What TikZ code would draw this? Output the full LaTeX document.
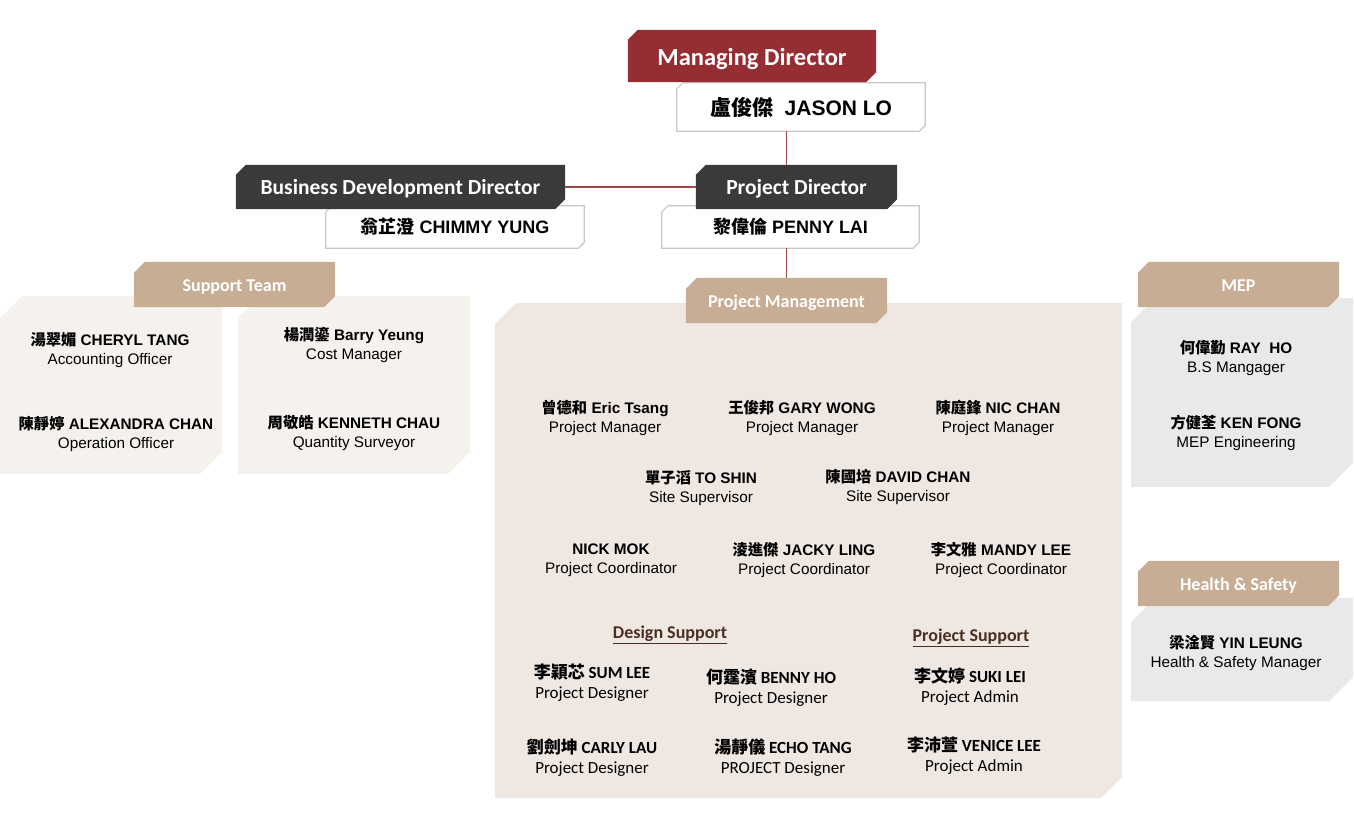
\documentclass[tikz,border=0pt]{standalone}
\usepackage{fontspec}
\setmainfont{Liberation Sans}
\newfontfamily\cjk{Noto Sans CJK TC}
\newfontfamily\headfont{Carlito}
\usetikzlibrary{backgrounds}

\definecolor{mdred}{HTML}{962D32}
\definecolor{darkhead}{HTML}{3A3A3A}
\definecolor{headtan}{HTML}{C8AD95}
\definecolor{pmbg}{HTML}{EFE7E1}
\definecolor{supbg}{HTML}{F5F2EE}
\definecolor{mepbg}{HTML}{E9E9E9}
\definecolor{linkred}{HTML}{A0454A}
\definecolor{boxgray}{HTML}{C8C8C8}
\definecolor{subbrown}{HTML}{4A3022}

\newcommand{\zh}[1]{{\cjk #1}}
% cut corners (top left, bottom right) round a named node
\newcommand{\snipshape}[3]{%
  \path[#3] ([shift={(0,#2)}]#1.north west) -- ([shift={(#2,0)}]#1.north west)
    -- (#1.north east) -- ([shift={(0,-#2)}]#1.south east)
    -- ([shift={(-#2,0)}]#1.south east) -- (#1.south west) -- cycle;}
% same for a plain panel: x1 y1 x2 y2 cut colour
\newcommand{\snippoly}[6]{%
  \fill[#6] (#1,#2+#5) -- (#1+#5,#2) -- (#3,#2) -- (#3,#4-#5)
    -- (#3-#5,#4) -- (#1,#4) -- cycle;}

\begin{document}
\begin{tikzpicture}[x=1pt,y=-1pt,
  headtext/.style={inner sep=0pt, text=white, text height=15.5, text depth=0,
    font=\headfont\bfseries\fontsize{21.5}{24}\selectfont},
  tanhead/.style={headtext, minimum width=201, minimum height=45, text height=14.6,
    font=\headfont\bfseries\fontsize{18}{20}\selectfont},
  namebox/.style={inner sep=0pt, font=\bfseries\fontsize{18}{20}\selectfont},
  staff/.style={align=center, inner sep=0pt, font=\fontsize{15.3}{19}\selectfont},
  staffb/.style={align=center, inner sep=0pt,
    font=\headfont\fontsize{17}{20}\selectfont},
  subhead/.style={inner sep=0pt, text=subbrown,
    font=\headfont\bfseries\fontsize{18}{20}\selectfont},
  link/.style={draw=linkred, line width=1.2pt},
  boxline/.style={fill=white, draw=boxgray, line width=1.2pt}]
  \useasboundingbox (0,0) rectangle (1354,830);

  % directors
  \node[headtext, minimum width=248, minimum height=52, text height=19.4,
    font=\headfont\bfseries\fontsize{24.5}{26}\selectfont] (md) at (752,56) {Managing Director};
  \node[namebox, minimum width=248, minimum height=48,
    font=\bfseries\fontsize{21}{24}\selectfont] (jason) at (801,107) {\zh{盧俊傑}\ \ JASON LO};
  \node[headtext, minimum width=329, minimum height=44] (bd) at (400.5,187) {Business Development Director};
  \node[namebox, minimum width=258, minimum height=42] (chimmy) at (455,227) {\zh{翁芷澄} CHIMMY YUNG};
  \node[headtext, minimum width=201, minimum height=44] (pd) at (796.5,187) {Project Director};
  \node[namebox, minimum width=257, minimum height=42] (penny) at (790.5,227) {\zh{黎偉倫} PENNY LAI};

  % team headers
  \node[tanhead] (sup) at (234.5,284.5) {Support Team};
  \node[tanhead] (pmhead) at (786.5,300.5) {Project Management};
  \node[tanhead] (mep) at (1238.5,284.5) {MEP};
  \node[tanhead] (hs) at (1238.5,583.5) {Health \& Safety};

  % support team
  \node[staff] (cheryl) at (110,350) {\textbf{\zh{湯翠媚} CHERYL TANG}\\Accounting Officer};
  \node[staff] (alexandra) at (116,434) {\textbf{\zh{陳靜婷} ALEXANDRA CHAN}\\Operation Officer};
  \node[staff] (barry) at (354,345) {\textbf{\zh{楊潤鎏} Barry Yeung}\\Cost Manager};
  \node[staff] (kenneth) at (354,433) {\textbf{\zh{周敬皓} KENNETH CHAU}\\Quantity Surveyor};

  % project management
  \node[staff] (eric) at (605,418) {\textbf{\zh{曾德和} Eric Tsang}\\Project Manager};
  \node[staff] (gary) at (802,418) {\textbf{\zh{王俊邦} GARY WONG}\\Project Manager};
  \node[staff] (nic) at (998,418) {\textbf{\zh{陳庭鋒} NIC CHAN}\\Project Manager};
  \node[staff] (toshin) at (701,488) {\textbf{\zh{單子滔} TO SHIN}\\Site Supervisor};
  \node[staff] (david) at (898,487) {\textbf{\zh{陳國培} DAVID CHAN}\\Site Supervisor};
  \node[staff] (nick) at (611,560) {\textbf{NICK MOK}\\Project Coordinator};
  \node[staff] (jacky) at (804,560) {\textbf{\zh{淩進傑} JACKY LING}\\Project Coordinator};
  \node[staff] (mandy) at (1001,560) {\textbf{\zh{李文雅} MANDY LEE}\\Project Coordinator};

  \node[subhead] (design) at (670,635) {\underline{Design Support}};
  \node[subhead] (projsup) at (971,638) {\underline{Project Support}};
  \node[staffb] (sum) at (592,683) {\textbf{\zh{李穎芯} SUM LEE}\\Project Designer};
  \node[staffb] (benny) at (771,688) {\textbf{\zh{何霆濱} BENNY HO}\\Project Designer};
  \node[staffb] (suki) at (970,687) {\textbf{\zh{李文婷} SUKI LEI}\\Project Admin};
  \node[staffb] (carly) at (592,758) {\textbf{\zh{劉劍坤} CARLY LAU}\\Project Designer};
  \node[staffb] (echo) at (783,758) {\textbf{\zh{湯靜儀} ECHO TANG}\\PROJECT Designer};
  \node[staffb] (venice) at (974,756) {\textbf{\zh{李沛萱} VENICE LEE}\\Project Admin};

  % mep, health and safety
  \node[staff] (ray) at (1236,358) {\textbf{\zh{何偉勤} RAY\ \ HO}\\B.S Mangager};
  \node[staff] (ken) at (1236,433) {\textbf{\zh{方健荃} KEN FONG}\\MEP Engineering};
  \node[staff] (yin) at (1236,653) {\textbf{\zh{梁淦賢} YIN LEUNG}\\Health \& Safety Manager};

  \begin{scope}[on background layer]
    \snippoly{0}{296}{222}{474}{22}{supbg}
    \snippoly{238}{296}{470}{474}{22}{supbg}
    \snippoly{495}{303}{1122}{798}{21}{pmbg}
    \snippoly{1131}{298}{1353}{487}{24}{mepbg}
    \snippoly{1131}{598}{1353}{701}{24}{mepbg}
    \foreach \b in {jason,chimmy,penny} {\snipshape{\b}{6}{boxline}}
    \snipshape{md}{10}{fill=mdred}
    \foreach \h in {bd,pd} {\snipshape{\h}{10}{fill=darkhead}}
    \foreach \h in {sup,pmhead,mep,hs} {\snipshape{\h}{11}{fill=headtan}}
  \end{scope}

  \draw[link] (jason.south -| pmhead.north) -- (pd.north -| pmhead.north);
  \draw[link] (bd.east) -- (pd.west);
  \draw[link] (penny.south -| pmhead.north) -- (pmhead.north);
\end{tikzpicture}
\end{document}
